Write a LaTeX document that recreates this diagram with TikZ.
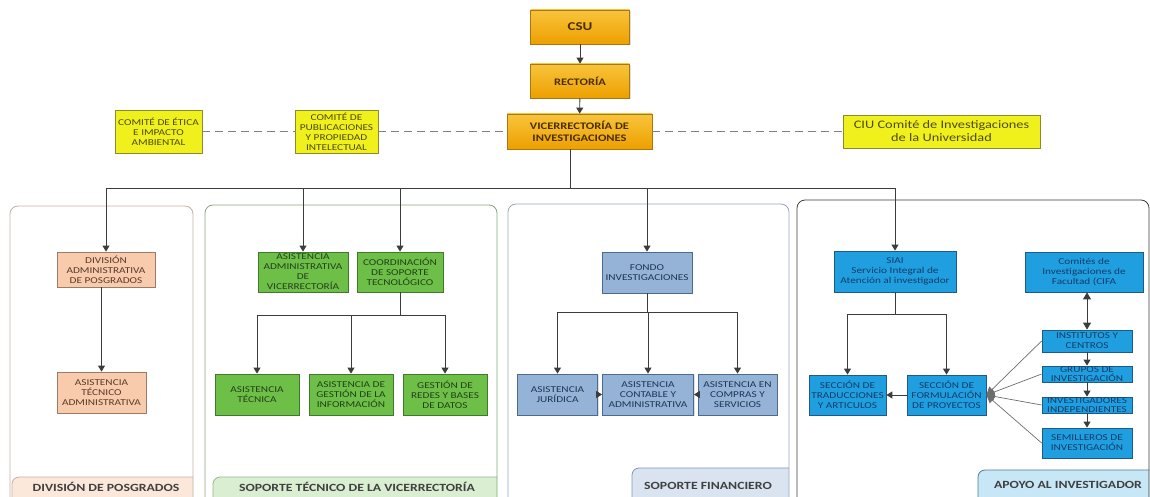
\documentclass[tikz,border=0pt]{standalone}
\usepackage{fontspec}
\setmainfont{Carlito}[FakeStretch=1.25]
\usepackage{tikz}
\usetikzlibrary{arrows.meta,shadows}

\definecolor{oroA}{HTML}{F8C43C}
\definecolor{oroB}{HTML}{EDA000}
\definecolor{oroBorde}{HTML}{A8780E}
\definecolor{oroTexto}{HTML}{4A2E00}
\definecolor{amarillo}{HTML}{F0F01C}
\definecolor{amarilloBorde}{HTML}{8A8A2E}
\definecolor{amarilloTexto}{HTML}{4E4A10}
\definecolor{durazno}{HTML}{F8CBAD}
\definecolor{duraznoBorde}{HTML}{9C7A66}
\definecolor{duraznoTexto}{HTML}{5A3A2A}
\definecolor{verde}{HTML}{6DBF47}
\definecolor{verdeBorde}{HTML}{3F7A2A}
\definecolor{verdeTexto}{HTML}{24401A}
\definecolor{grisazul}{HTML}{95B3D7}
\definecolor{grisazulBorde}{HTML}{4C6A8C}
\definecolor{grisazulTexto}{HTML}{1F3552}
\definecolor{celeste}{HTML}{1F9FE0}
\definecolor{celesteBorde}{HTML}{1E5A85}
\definecolor{celesteTexto}{HTML}{123C68}
\definecolor{linea}{HTML}{3C3C3C}
\definecolor{trazogris}{HTML}{808080}

\begin{document}
\begin{tikzpicture}[x=1pt, y=-1pt]
		\tikzstyle{caja}=[rectangle, draw, line width=0.8pt, align=center, inner sep=0pt,
			font=\fontsize{9}{10}\selectfont,
			drop shadow={shadow xshift=1.2pt, shadow yshift=-1.2pt, opacity=0.25}];
		\tikzstyle{mando}=[caja, top color=oroA, bottom color=oroB, draw=oroBorde, text=oroTexto, font=\fontsize{10}{12}\selectfont\bfseries];
		\tikzstyle{comite}=[caja, fill=amarillo, draw=amarilloBorde, text=amarilloTexto];
		\tikzstyle{posg}=[caja, fill=durazno, draw=duraznoBorde, text=duraznoTexto];
		\tikzstyle{tecno}=[caja, fill=verde, draw=verdeBorde, text=verdeTexto];
		\tikzstyle{finan}=[caja, fill=grisazul, draw=grisazulBorde, text=grisazulTexto];
		\tikzstyle{apoyo}=[caja, fill=celeste, draw=celesteBorde, text=celesteTexto];
		\tikzstyle{flecha}=[draw=linea, line width=0.9pt, -{Triangle[length=6pt,width=7pt]}];
		\tikzstyle{doble}=[draw=linea, line width=0.9pt, {Triangle[length=7pt,width=8pt]}-{Triangle[length=7pt,width=8pt]}];
		\tikzstyle{fina}=[draw=linea!75, line width=0.7pt, -{Triangle[length=8pt,width=8pt]}];
		\tikzstyle{trazo}=[draw=trazogris, line width=1.2pt, dash pattern=on 8pt off 5pt];
		\tikzstyle{marco}=[rounded corners=8pt, line width=0.8pt];
		\tikzstyle{pestana}=[rounded corners=7pt, line width=0.8pt];
		\tikzstyle{etiqueta}=[inner sep=0pt, text=black!75, font=\fontsize{11}{12}\selectfont\bfseries];

		\useasboundingbox (0,0) rectangle (1150,497);

		% marcos de las areas
		\begin{scope}
			\clip[rounded corners=8pt] (10,206) rectangle (193,520);
			\filldraw[pestana, fill=durazno!45, draw=duraznoBorde!60] (12,477) rectangle (210,530);
		\end{scope}
		\draw[marco, draw=duraznoBorde!60] (10,206) rectangle (193,520);
		\begin{scope}
			\clip[rounded corners=8pt] (205,205) rectangle (497,520);
			\filldraw[pestana, fill=verde!25, draw=verdeBorde!55] (213,477) rectangle (510,530);
		\end{scope}
		\draw[marco, draw=verdeBorde!65] (205,205) rectangle (497,520);
		\begin{scope}
			\clip[rounded corners=8pt] (508,204) rectangle (789,520);
			\filldraw[pestana, fill=grisazul!35, draw=grisazulBorde!70] (632,468) rectangle (800,530);
		\end{scope}
		\draw[marco, draw=grisazulBorde!60] (508,204) rectangle (789,520);
		\begin{scope}
			\clip[rounded corners=8pt] (797,200) rectangle (1149,520);
			\filldraw[pestana, fill=celeste!25, draw=celesteBorde!80] (978,470) rectangle (1160,530);
		\end{scope}
		\draw[marco, draw=linea] (797,200) rectangle (1149,520);

		\node[etiqueta] (lposg) at (106,487) {DIVISIÓN DE POSGRADOS};
		\node[etiqueta] (ltecno) at (357,487) {SOPORTE TÉCNICO DE LA VICERRECTORÍA};
		\node[etiqueta] (lfinan) at (708,486) {SOPORTE FINANCIERO};
		\node[etiqueta] (lapoyo) at (1068,485) {APOYO AL INVESTIGADOR};

		% direccion
		\node[mando, minimum width=99pt, minimum height=34pt, font=\fontsize{12}{14}\selectfont\bfseries] (csu) at (580,27) {CSU};
		\node[mando, minimum width=99pt, minimum height=34pt] (rect) at (580,81) {RECTORÍA};
		\node[mando, minimum width=145pt, minimum height=35pt] (vice) at (579.5,131.5) {VICERRECTORÍA DE\\INVESTIGACIONES};

		\node[comite, minimum width=87pt, minimum height=43pt] (etica) at (158.5,131.5) {COMITÉ DE ÉTICA\\E IMPACTO\\AMBIENTAL};
		\node[comite, minimum width=83pt, minimum height=43pt] (publi) at (336.5,131.5) {COMITÉ DE\\PUBLICACIONES\\Y PROPIEDAD\\INTELECTUAL};
		\node[comite, minimum width=197pt, minimum height=33pt, font=\fontsize{11.5}{13}\selectfont] (ciu) at (941.5,131.5) {CIU Comité de Investigaciones\\de la Universidad};

		% division de posgrados
		\node[posg, minimum width=98pt, minimum height=35pt] (divad) at (106,269.5) {DIVISIÓN\\ADMINISTRATIVA\\DE POSGRADOS};
		\node[posg, minimum width=89pt, minimum height=41pt] (ata) at (101.5,392.5) {ASISTENCIA\\TÉCNICO\\ADMINISTRATIVA};

		% soporte tecnico
		\node[tecno, minimum width=90pt, minimum height=40pt] (asisadm) at (303,272) {ASISTENCIA\\ADMINISTRATIVA\\DE\\VICERRECTORÍA};
		\node[tecno, minimum width=86pt, minimum height=40pt] (coord) at (400,272) {COORDINACIÓN\\DE SOPORTE\\TECNOLÓGICO};
		\node[tecno, minimum width=84pt, minimum height=41pt] (atec) at (257,394.5) {ASISTENCIA\\TÉCNICA};
		\node[tecno, minimum width=84pt, minimum height=41pt] (agi) at (351,394.5) {ASISTENCIA DE\\GESTIÓN DE LA\\INFORMACIÓN};
		\node[tecno, minimum width=84pt, minimum height=41pt] (redes) at (445,394.5) {GESTIÓN DE\\REDES Y BASES\\DE DATOS};

		% soporte financiero
		\node[finan, minimum width=90pt, minimum height=41pt] (fondo) at (647,272.5) {FONDO\\INVESTIGACIONES};
		\node[finan, minimum width=80pt, minimum height=41pt] (jur) at (557.5,394.5) {ASISTENCIA\\JURÍDICA};
		\node[finan, minimum width=91pt, minimum height=41pt] (cont) at (648,394.5) {ASISTENCIA\\CONTABLE Y\\ADMINISTRATIVA};
		\node[finan, minimum width=79pt, minimum height=41pt] (compras) at (737.5,394.5) {ASISTENCIA EN\\COMPRAS Y\\SERVICIOS};

		% apoyo al investigador
		\node[apoyo, minimum width=122pt, minimum height=41pt] (siai) at (895,271.5) {SIAI\\Servicio Integral de\\Atención al investigador};
		\node[apoyo, minimum width=77pt, minimum height=40pt] (trad) at (847.5,395) {SECCIÓN DE\\TRADUCCIONES\\Y ARTICULOS};
		\node[apoyo, minimum width=79pt, minimum height=40pt] (form) at (946.5,395) {SECCIÓN DE\\FORMULACIÓN\\DE PROYECTOS};
		\node[apoyo, minimum width=118pt, minimum height=40pt] (cifa) at (1084,272) {Comités de\\Investigaciones de\\Facultad (CIFA};
		\node[apoyo, minimum width=90pt, minimum height=22pt] (inst) at (1087,341) {INSTITUTOS Y\\CENTROS};
		\node[apoyo, minimum width=90pt, minimum height=16pt, font=\fontsize{9}{9}\selectfont] (grupos) at (1087,374) {GRUPOS DE\\INVESTIGACIÓN};
		\node[apoyo, minimum width=90pt, minimum height=16pt, font=\fontsize{9}{9}\selectfont] (indep) at (1087,405) {INVESTIGADORES\\INDEPENDIENTES};
		\node[apoyo, minimum width=90pt, minimum height=30pt] (semi) at (1087,443) {SEMILLEROS DE\\INVESTIGACIÓN};

		% conexiones
		\draw[flecha] (csu) -- (rect);
		\draw[flecha] (rect) -- (vice);
		\draw[trazo] (etica) -- (publi);
		\draw[trazo] (publi) -- (vice);
		\draw[trazo] (vice) -- (ciu);

		\coordinate (bus) at (570,188);
		\draw[flecha] (vice.south -| bus) -- (bus) -| (divad.north);
		\draw[flecha] (vice.south -| bus) -- (bus) -| (asisadm.north);
		\draw[flecha] (vice.south -| bus) -- (bus) -| (coord.north);
		\draw[flecha] (vice.south -| bus) -- (bus) -| (fondo.north);
		\draw[flecha] (vice.south -| bus) -- (bus) -| (siai.north);

		\draw[flecha] (divad.south -| ata.north) -- (ata.north);

		\coordinate (tbus) at (400,315);
		\draw[flecha] (coord.south) -- (tbus) -| (atec.north);
		\draw[flecha] (coord.south) -- (tbus) -| (agi.north);
		\draw[flecha] (coord.south) -- (tbus) -| (redes.north);

		\coordinate (fbus) at (647,312);
		\draw[flecha] (fondo.south) -- (fbus) -| (jur.north);
		\draw[flecha] (fondo.south) -- (fbus) -| (cont.north);
		\draw[flecha] (fondo.south) -- (fbus) -| (compras.north);
		\draw[flecha] (jur) -- (cont);
		\draw[flecha] (compras) -- (cont);

		\coordinate (sbus) at (895,314);
		\draw[flecha] (siai.south) -- (sbus) -| (trad.north);
		\draw[flecha] (siai.south) -- (sbus) -| (form.north);
		\draw[flecha] (form) -- (trad);

		\draw[doble] (cifa.south -| inst.north) -- (inst.north);
		\draw[flecha] (inst) -- (grupos);
		\draw[flecha] (grupos) -- (indep);
		\draw[flecha] (indep) -- (semi);
		\foreach \n in {inst, grupos, indep, semi}
			\draw[fina] (\n.west) -- (form.east);
	\end{tikzpicture}
\end{document}
